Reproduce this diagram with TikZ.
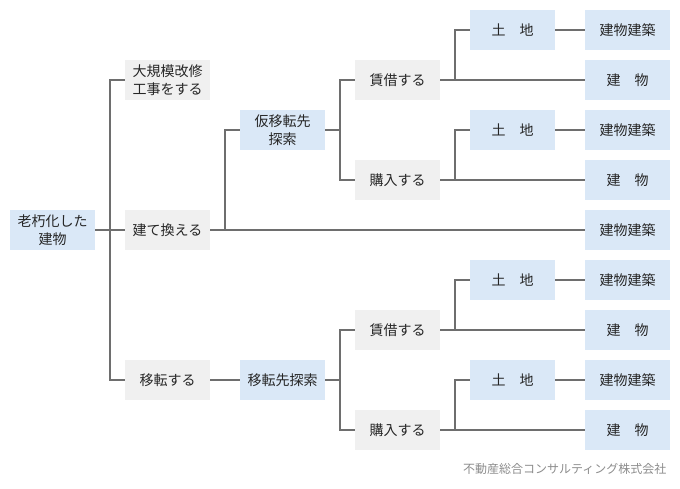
\documentclass[tikz,border=0pt]{standalone}
\usepackage{fontspec}
\setmainfont{Noto Sans CJK JP}
\usepackage{color}
\usepackage{tikz}
\usetikzlibrary{positioning}
\definecolor{boxblue}{RGB}{218,232,247}
\definecolor{boxgray}{RGB}{240,240,240}
\definecolor{linegray}{RGB}{110,110,110}
\definecolor{footgray}{RGB}{140,140,140}
\tikzstyle{blu} = [rectangle, fill=boxblue, align=center, inner sep=0pt, minimum width=85pt, minimum height=40pt]
\tikzstyle{gry} = [rectangle, fill=boxgray, align=center, inner sep=0pt, minimum width=85pt, minimum height=40pt]
\tikzstyle{ln}  = [draw=linegray, line width=1.5pt]
\begin{document}
\begin{tikzpicture}
		[
			x=1pt, y=-1pt,
			font=\fontsize{14}{18}\selectfont,
			text=black!85
		]
		\useasboundingbox (0,0) rectangle (680,488);
		% nodes
		\node[blu] (root)     at (52.5,230)  {老朽化した\\建物};
		\node[gry] (kaishu)   at (167.5,80)  {大規模改修\\工事をする};
		\node[gry] (tatekae)  at (167.5,230) {建て換える};
		\node[gry] (iten)     at (167.5,380) {移転する};
		\node[blu] (karisaki) at (282.5,130) {仮移転先\\探索};
		\node[blu] (itensaki) at (282.5,380) {移転先探索};
		\node[gry] (chin1)    at (397.5,80)  {賃借する};
		\node[gry] (kou1)     at (397.5,180) {購入する};
		\node[gry] (chin2)    at (397.5,330) {賃借する};
		\node[gry] (kou2)     at (397.5,430) {購入する};
		\node[blu] (tochi1)   at (512.5,30)  {土　地};
		\node[blu] (tochi2)   at (512.5,130) {土　地};
		\node[blu] (tochi3)   at (512.5,280) {土　地};
		\node[blu] (tochi4)   at (512.5,380) {土　地};
		\node[blu] (kenchiku1) at (627.5,30)  {建物建築};
		\node[blu] (tatemono1) at (627.5,80)  {建　物};
		\node[blu] (kenchiku2) at (627.5,130) {建物建築};
		\node[blu] (tatemono2) at (627.5,180) {建　物};
		\node[blu] (kenchiku3) at (627.5,230) {建物建築};
		\node[blu] (kenchiku4) at (627.5,280) {建物建築};
		\node[blu] (tatemono3) at (627.5,330) {建　物};
		\node[blu] (kenchiku5) at (627.5,380) {建物建築};
		\node[blu] (tatemono4) at (627.5,430) {建　物};
		\node[anchor=east, text=footgray, font=\fontsize{12}{14}\selectfont] (foot) at (670,469) {不動産総合コンサルティング株式会社};
		% branch points
		\coordinate (j0) at (110,230);
		\coordinate (j1) at (225,230);
		\coordinate (j2) at (340,130);
		\coordinate (j3) at (340,380);
		\coordinate (j4) at (455,80);
		\coordinate (j5) at (455,180);
		\coordinate (j6) at (455,330);
		\coordinate (j7) at (455,430);
		% connectors
		\draw[ln] (root.east) -- (tatekae.west);
		\draw[ln] (kaishu.west) -| (j0) |- (iten.west);
		\draw[ln] (tatekae.east) -- (kenchiku3.west);
		\draw[ln] (j1) |- (karisaki.west);
		\draw[ln] (iten.east) -- (itensaki.west);
		\draw[ln] (karisaki.east) -- (j2);
		\draw[ln] (chin1.west) -| (j2) |- (kou1.west);
		\draw[ln] (itensaki.east) -- (j3);
		\draw[ln] (chin2.west) -| (j3) |- (kou2.west);
		\draw[ln] (chin1.east) -- (tatemono1.west);
		\draw[ln] (kou1.east) -- (tatemono2.west);
		\draw[ln] (chin2.east) -- (tatemono3.west);
		\draw[ln] (kou2.east) -- (tatemono4.west);
		\draw[ln] (j4) |- (tochi1.west);
		\draw[ln] (j5) |- (tochi2.west);
		\draw[ln] (j6) |- (tochi3.west);
		\draw[ln] (j7) |- (tochi4.west);
		\draw[ln] (tochi1.east) -- (kenchiku1.west);
		\draw[ln] (tochi2.east) -- (kenchiku2.west);
		\draw[ln] (tochi3.east) -- (kenchiku4.west);
		\draw[ln] (tochi4.east) -- (kenchiku5.west);
	\end{tikzpicture}
\end{document}
